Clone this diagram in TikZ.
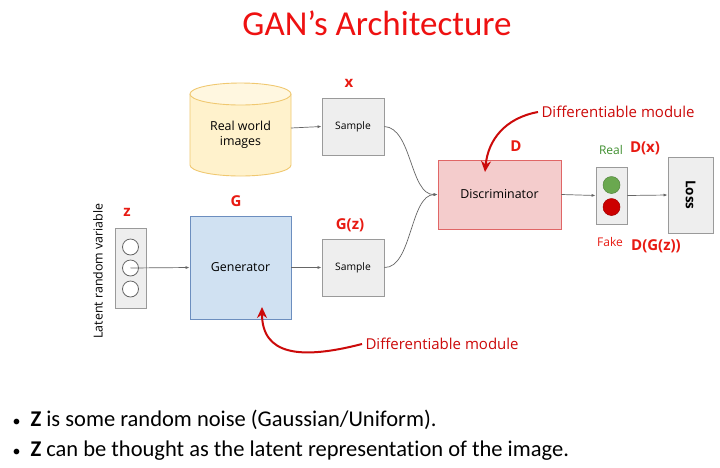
\documentclass[tikz,border=0pt]{standalone}
\usepackage{fontspec}
\setmainfont{Carlito}[Ligatures=NoCommon]
\newfontfamily\lbl{Open Sans}
\usetikzlibrary{arrows.meta}
\definecolor{tred}{HTML}{EE1111}
\definecolor{lred}{HTML}{E81A12}
\definecolor{dred}{HTML}{CC0A0A}
\definecolor{boxg}{HTML}{EEEEEE}
\definecolor{boxgb}{HTML}{9A9A9A}
\definecolor{genf}{HTML}{D0E1F2}
\definecolor{gend}{HTML}{6C8EBF}
\definecolor{disf}{HTML}{F4CCCC}
\definecolor{disd}{HTML}{E06666}
\definecolor{cylf}{HTML}{FFF2CC}
\definecolor{cyld}{HTML}{F0C870}
\definecolor{gr}{HTML}{6AA84F}
\definecolor{rd}{HTML}{CC0000}
\definecolor{grtxt}{HTML}{3F8F2F}
\begin{document}
\begin{tikzpicture}[x=1pt,y=-1pt,
  gbox/.style={draw=boxgb,fill=boxg,line width=0.9pt,inner sep=0pt,font=\lbl\fontsize{10.3}{12}\selectfont},
  conn/.style={draw=black!60,line width=0.7pt,-{Latex[length=4pt,width=3pt]}},
  redlbl/.style={text=lred,font=\lbl\bfseries\fontsize{15}{17}\selectfont},
  diffarrow/.style={draw=dred,line width=2pt,-{Stealth[length=11pt,width=10pt]}},
  difftxt/.style={text=dred,font=\lbl\fontsize{15}{17}\selectfont,anchor=west},
  circ/.style={circle,draw=black!60,fill=white,line width=0.8pt,minimum size=16pt,inner sep=0pt}]
\useasboundingbox (0,0) rectangle (720,467);
\fill[white] (0,0) rectangle (720,467);
% title
\node[text=tred,font=\fontsize{35}{40}\selectfont] (title) at (377,23) {GAN’s Architecture};
% cylinder
\fill[cylf,draw=cyld,line width=0.9pt] (190,94) -- (190,165) arc[start angle=180,end angle=360,x radius=50.5,y radius=-11] -- (291,94);
\filldraw[fill=cylf!60!white,draw=cyld,line width=0.9pt] (240.5,94) ellipse[x radius=50.5,y radius=11];
\node[font=\lbl\fontsize{12.4}{15}\selectfont,align=center] (cyl) at (240.5,135) {Real world\\images};
\coordinate (cylr) at (291,128);
% sample boxes
\node[gbox,minimum width=62pt,minimum height=57pt] (s1) at (353,126.5) {Sample};
\node[gbox,minimum width=62pt,minimum height=57pt] (s2) at (353,267.5) {Sample};
\node[redlbl] (xl) at (349,83) {x};
\node[redlbl] (gzl) at (350,225) {G(z)};
% generator
\node[draw=gend,fill=genf,line width=0.9pt,minimum width=101pt,minimum height=103pt,inner sep=0pt,font=\lbl\fontsize{12.4}{15}\selectfont] (gen) at (240.5,267.5) {Generator};
\node[redlbl] (gl) at (236,201) {G};
% z box
\node[gbox,minimum width=31pt,minimum height=80pt] (zb) at (130.5,268) {};
\node[circ] (c1) at (130.5,247) {};
\node[circ] (c2) at (130.5,268) {};
\node[circ] (c3) at (130.5,289) {};
\node[redlbl] (zl) at (127,212) {z};
\node[rotate=90,font=\lbl\fontsize{12.4}{15}\selectfont] (lrv) at (98,271) {Latent random variable};
% discriminator
\node[draw=disd,fill=disf,line width=0.9pt,minimum width=123pt,minimum height=69pt,inner sep=0pt,font=\lbl\fontsize{12.4}{15}\selectfont] (dis) at (499.5,194.5) {Discriminator};
\node[redlbl] (dl) at (516,146) {D};
% real/fake
\node[gbox,minimum width=31pt,minimum height=57pt] (rf) at (611.5,195.5) {};
\node[circle,draw=gr!80!black,fill=gr,minimum size=17pt,inner sep=0pt,line width=0.5pt] (gc) at (611.5,185) {};
\node[circle,draw=rd!80!black,fill=rd,minimum size=17pt,inner sep=0pt,line width=0.5pt] (rc) at (611.5,207) {};
\node[text=grtxt,font=\lbl\fontsize{12}{14}\selectfont] (real) at (611,150) {Real};
\node[text=lred,font=\lbl\fontsize{12}{14}\selectfont] (fake) at (610,242) {Fake};
\node[redlbl] (dx) at (645,148) {D(x)};
\node[redlbl] (dgz) at (656,246) {D(G(z))};
% loss
\node[gbox,minimum width=45pt,minimum height=76pt] (loss) at (690.5,195) {};
\node[rotate=-90,font=\lbl\bfseries\fontsize{13.5}{15}\selectfont] (losst) at (690.5,195) {Loss};
% connectors
\draw[conn] (cylr) -- (s1.west);
\draw[conn] (c2.center) -- (gen.west);
\draw[conn] (gen.east) -- (s2.west);
\draw[conn] (s1.east) .. controls (412,128) and (410,195) .. (dis.west);
\draw[conn] (s2.east) .. controls (412,268) and (410,195) .. (dis.west);
\draw[conn] (dis.east) -- (rf.west);
\draw[conn] (rf.east) -- (loss.west);
% differentiable module annotations
\node[difftxt] (dm1) at (538,112) {Differentiable module};
\node[difftxt] (dm2) at (362,344) {Differentiable module};
\draw[diffarrow] (dm1.west) .. controls (505,118) and (488,140) .. (485,172);
\draw[diffarrow] (dm2.west) .. controls (300,360) and (262,355) .. (262,307);
% bullets
\node[anchor=west,font=\fontsize{22.5}{26}\selectfont] (b1) at (9,420) {{\fontsize{16}{18}\selectfont\textbullet}\hspace{10pt}\textbf{Z} is some random noise (Gaussian/Uniform).};
\node[anchor=west,font=\fontsize{22.5}{26}\selectfont] (b2) at (9,451) {{\fontsize{16}{18}\selectfont\textbullet}\hspace{10pt}\textbf{Z} can be thought as the latent representation of the image.};
\end{tikzpicture}
\end{document}
